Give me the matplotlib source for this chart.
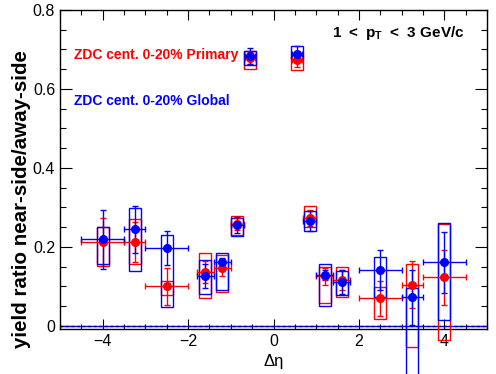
import matplotlib
matplotlib.use("Agg")
import matplotlib.pyplot as plt
from matplotlib.patches import Rectangle
from matplotlib.ticker import MultipleLocator
import numpy as np

# delta-eta bins (shared by both selections)
deta = [-4.0, -3.25, -2.5, -1.6, -1.2, -0.85, -0.55, 0.55, 0.85, 1.2, 1.6, 2.5, 3.25, 4.0]
deta_err = [0.5, 0.25, 0.5, 0.2, 0.2, 0.15, 0.12, 0.12, 0.15, 0.2, 0.2, 0.5, 0.25, 0.5]

# ZDC cent. 0-20% Primary (red)
prim_val = [0.213, 0.212, 0.100, 0.137, 0.147, 0.259, 0.678, 0.673, 0.274, 0.126, 0.116, 0.070, 0.105, 0.123]
prim_err = [0.060, 0.051, 0.046, 0.028, 0.020, 0.015, 0.015, 0.018, 0.020, 0.022, 0.025, 0.044, 0.060, 0.070]
prim_sys_lo = [0.151, 0.156, 0.078, 0.070, 0.085, 0.230, 0.650, 0.647, 0.250, 0.059, 0.073, 0.017, -0.054, -0.035]
prim_sys_hi = [0.250, 0.270, 0.114, 0.184, 0.180, 0.278, 0.695, 0.686, 0.303, 0.149, 0.149, 0.098, 0.156, 0.259]

# ZDC cent. 0-20% Global (blue)
glob_val = [0.219, 0.245, 0.197, 0.127, 0.161, 0.256, 0.684, 0.689, 0.265, 0.129, 0.111, 0.141, 0.073, 0.161]
glob_err = [0.075, 0.060, 0.043, 0.030, 0.012, 0.021, 0.021, 0.021, 0.025, 0.013, 0.030, 0.051, 0.070, 0.077]
glob_sys_lo = [0.156, 0.138, 0.047, 0.080, 0.090, 0.227, 0.6615, 0.675, 0.240, 0.051, 0.078, 0.073, -0.16, 0.0144]
glob_sys_hi = [0.250, 0.298, 0.230, 0.166, 0.184, 0.273, 0.697, 0.709, 0.290, 0.156, 0.138, 0.174, 0.095, 0.260]

BOX_HW = 0.14
W, H = 496, 374

plt.rcParams['font.family'] = ['Liberation Sans', 'DejaVu Sans']
plt.rcParams['mathtext.fontset'] = 'custom'
plt.rcParams['mathtext.bf'] = 'Liberation Sans:bold'
plt.rcParams['mathtext.rm'] = 'Liberation Sans'

fig = plt.figure(figsize=(W / 100, H / 100), dpi=100)
ax = fig.add_axes([60 / W, 1 - 329 / H, 427 / W, 319 / H])


def draw_set(x, xe, y, ye, lo, hi, color):
    for xi, l, h in zip(x, lo, hi):
        ax.add_patch(Rectangle((xi - BOX_HW, l), 2 * BOX_HW, h - l, fill=False,
                               edgecolor=color, lw=1.0, clip_on=False, zorder=3))
    ax.errorbar(x, y, xerr=xe, yerr=ye, fmt='o', color=color, ms=5.5,
                elinewidth=1.0, capsize=2.2, capthick=1.0, zorder=4)


draw_set(deta, deta_err, prim_val, prim_err, prim_sys_lo, prim_sys_hi, 'red')
draw_set(deta, deta_err, glob_val, glob_err, glob_sys_lo, glob_sys_hi, 'blue')

# zero line
ax.axhline(0, color='blue', lw=1.0, zorder=2)
ax.axhline(0, color='#000066', lw=1.0, ls=(0, (2, 2)), zorder=2)

ax.set_xlim(-5, 5)
ax.set_ylim(-0.0076, 0.8)
ax.xaxis.set_major_locator(MultipleLocator(2))
ax.xaxis.set_minor_locator(MultipleLocator(0.5))
ax.yaxis.set_minor_locator(MultipleLocator(0.05))
ax.set_yticks([0, 0.2, 0.4, 0.6, 0.8])
ax.set_yticklabels(['0', '0.2', '0.4', '0.6', '0.8'])
ax.tick_params(which='both', direction='in', top=True, right=True, labelsize=11.5)
ax.tick_params(axis='y', which='major', length=8.6, width=0.8)
ax.tick_params(axis='y', which='minor', length=4.3, width=0.8)
ax.tick_params(axis='x', which='major', length=7, width=0.8)
ax.tick_params(axis='x', which='minor', length=3.5, width=0.8)
for s in ax.spines.values():
    s.set_linewidth(1.0)

ax.set_xlabel('Δη', fontsize=12)
fig.text(22 / W, 1 - 199 / H, 'yield ratio near-side/away-side', rotation=90,
         fontsize=14.8, fontweight='bold', ha='center', va='center')

fig.text(74 / W, 1 - 55 / H, 'ZDC cent. 0-20% Primary', color='red',
         fontsize=10, fontweight='bold', va='center')
fig.text(74 / W, 1 - 101 / H, 'ZDC cent. 0-20% Global', color='blue',
         fontsize=10, fontweight='bold', va='center')
fig.text(332 / W, 1 - 33 / H, r'$\mathbf{1\ <\ p_{T}\ <\ 3\ GeV/c}$', fontsize=11,
         va='center', ha='left')

fig.savefig('out.png', dpi=100)
